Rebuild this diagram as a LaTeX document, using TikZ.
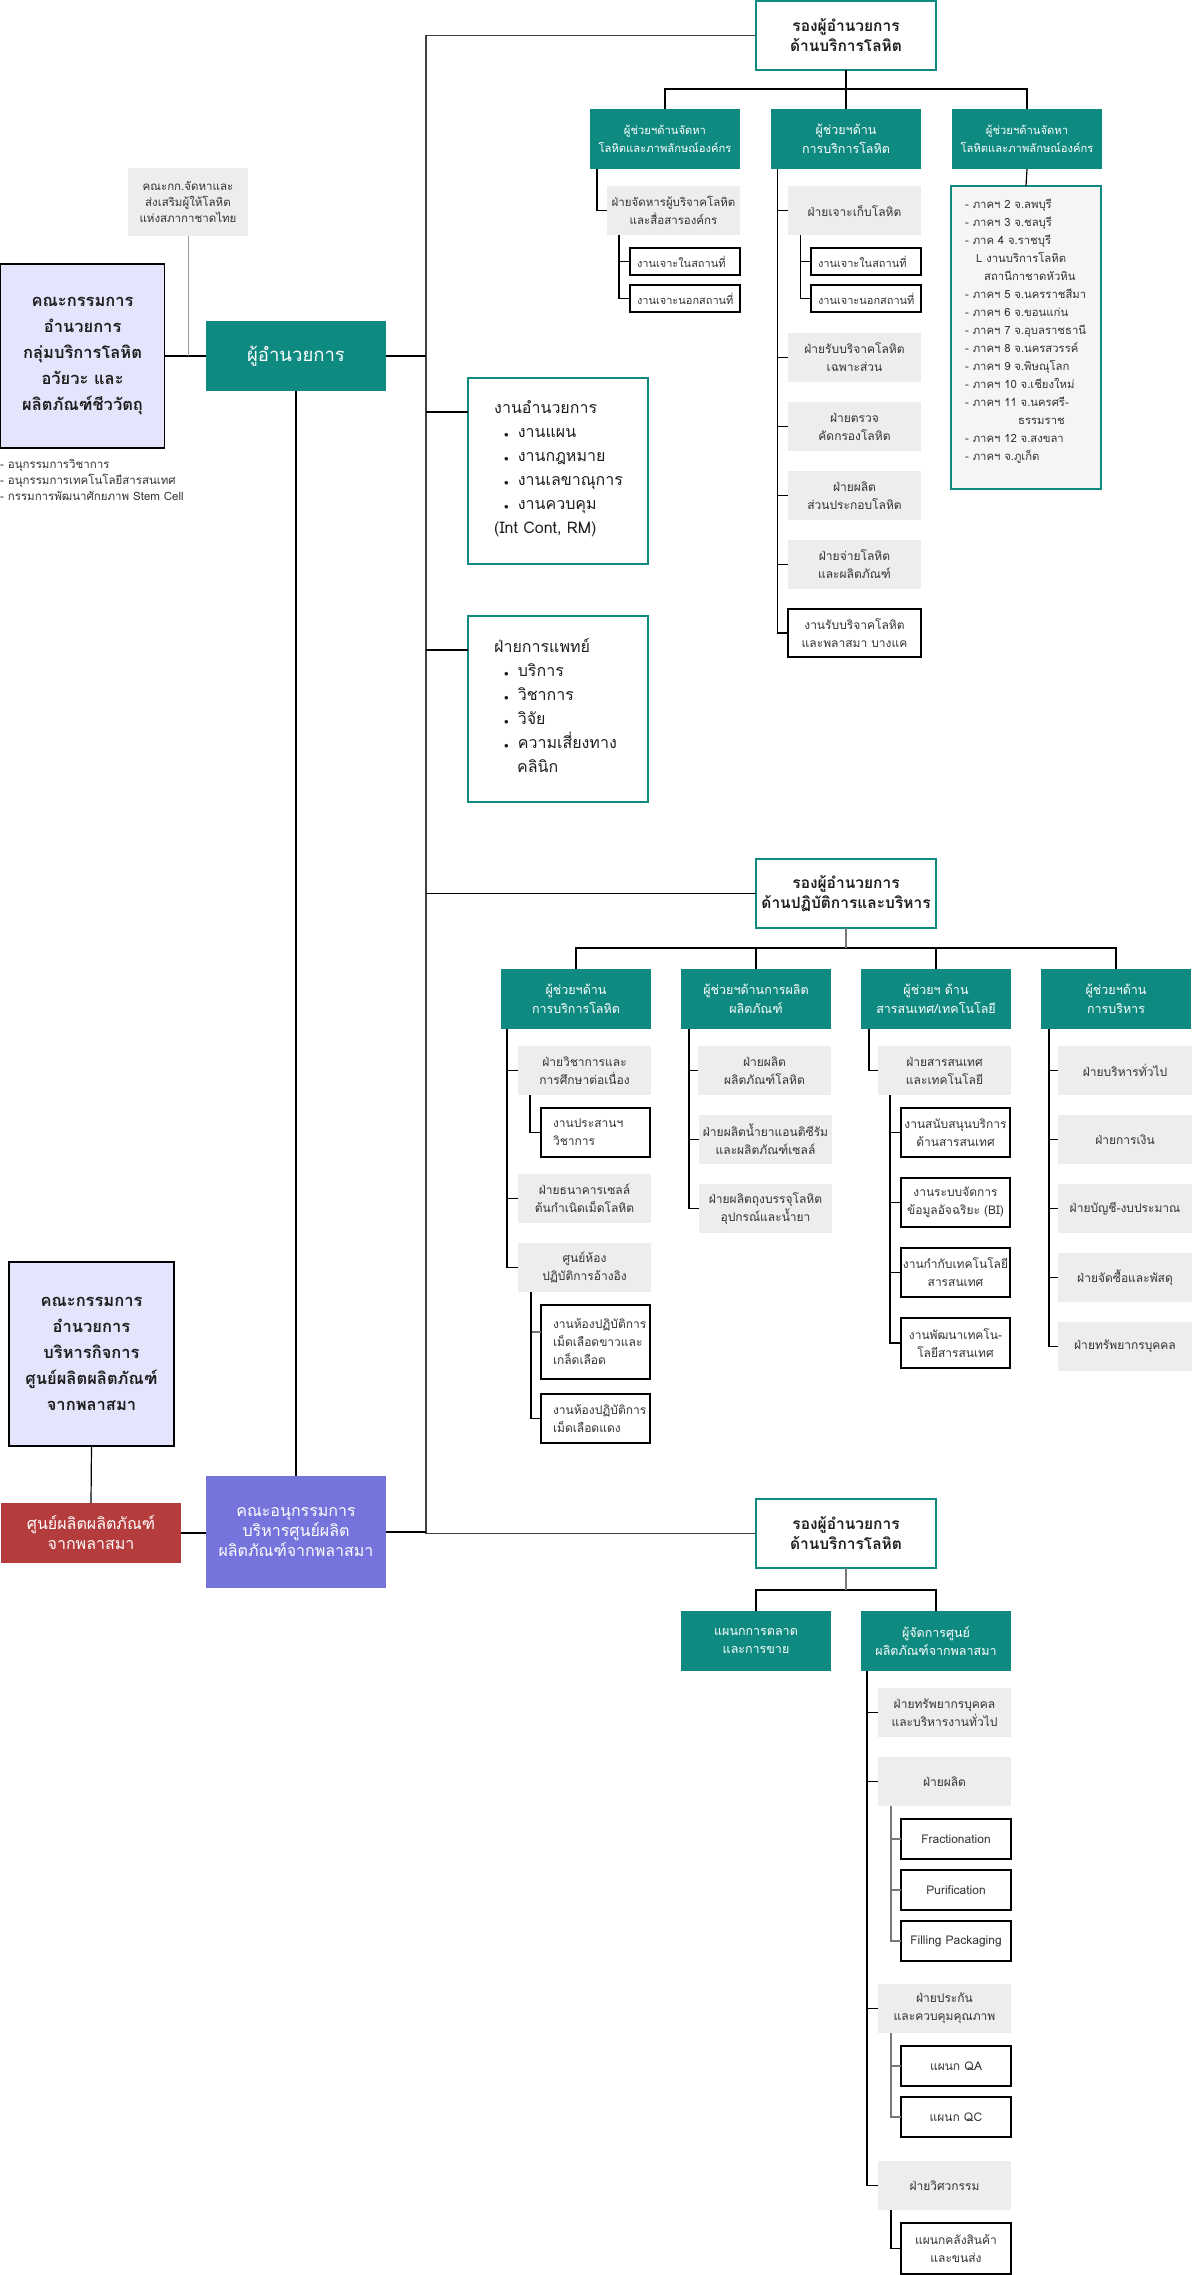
\documentclass[tikz,border=0pt]{standalone}
\usepackage{fontspec}
\setmainfont[Script=Thai]{Loma}
\usetikzlibrary{calc}
\definecolor{tealc}{HTML}{0E8A80}
\definecolor{grayfill}{HTML}{EDEDED}
\definecolor{regfill}{HTML}{F5F5F5}
\definecolor{lavc}{HTML}{E4E4FC}
\definecolor{purc}{HTML}{7474DC}
\definecolor{redc}{HTML}{B53C3C}
\definecolor{txtgray}{HTML}{333333}
\definecolor{txtdark}{HTML}{1E1E1E}
\definecolor{linegray}{HTML}{777777}
\definecolor{lightline}{HTML}{999999}
\newcommand{\bx}[7]{\node[#1, minimum width=#5pt, minimum height=#6pt] (#2) at (#3,#4) {#7};}
\newcommand{\bul}{\hspace*{10pt}{\fontsize{9}{9}\selectfont$\bullet$}\hspace{9pt}}
\tikzset{
  base/.style={anchor=north west, align=center, inner sep=0pt, outer sep=0pt},
  ln/.style={line width=1.2pt, draw=black},
  lng/.style={line width=1.7pt, draw=linegray},
  lnt/.style={line width=1.4pt, draw=black!75},
  lnl/.style={line width=1pt, draw=lightline},
  tealbox/.style={base, fill=tealc, text=white, font=\fontsize{12.5}{18.5}\selectfont},
  tealsm/.style={tealbox, font=\fontsize{11.2}{18.5}\selectfont},
  vpbox/.style={base, draw=tealc, line width=1.2pt, fill=white, text=txtdark, font=\bfseries\fontsize{15.5}{20}\selectfont},
  graybox/.style={base, fill=grayfill, text=txtgray, font=\fontsize{12}{18}\selectfont},
  wbox/.style={base, draw=black, line width=1.2pt, fill=white, text=txtgray, font=\fontsize{12}{18}\selectfont},
  wboxl/.style={wbox, align=left, inner xsep=12pt, text width=85pt},
  wboxs/.style={wbox, align=left, inner xsep=7pt, text width=96pt, font=\fontsize{11}{18}\selectfont},
  lavbox/.style={base, draw=black, line width=1.2pt, fill=lavc, text=txtdark, font=\bfseries\fontsize{16.5}{26}\selectfont},
  infobox/.style={base, draw=tealc, line width=1.2pt, fill=white},
  infotext/.style={anchor=north west, align=left, inner sep=0pt, text=txtdark, font=\fontsize{16}{24}\selectfont},
  btitle/.style={base, text=white, font=\fontsize{16}{20}\selectfont},
}
\begin{document}
\begin{tikzpicture}[x=1pt,y=-1pt]
\useasboundingbox[fill=white] (0,0) rectangle (1192,2275);

% ---------- left side ----------
\bx{graybox, font=\fontsize{11.5}{16}\selectfont}{G0}{128}{168}{120}{68}{คณะกก.จัดหาและ\\ส่งเสริมผู้ให้โลหิต\\แห่งสภากาชาดไทย}
\bx{lavbox}{L1}{0.6}{264}{164}{184}{คณะกรรมการ\\อำนวยการ\\กลุ่มบริการโลหิต\\อวัยวะ และ\\ผลิตภัณฑ์ชีววัตถุ}
\bx{tealbox, font=\fontsize{18.5}{22}\selectfont}{D}{206}{321}{180}{70}{ผู้อำนวยการ}
\node[anchor=north west, align=left, inner sep=0pt, text=txtgray, font=\fontsize{11.5}{16}\selectfont] (NOTES) at (0,459)
 {- อนุกรรมการวิชาการ\\- อนุกรรมการเทคโนโลยีสารสนเทศ\\- กรรมการพัฒนาศักยภาพ Stem Cell};

\bx{lavbox}{L2}{9}{1262}{165}{184}{คณะกรรมการ\\อำนวยการ\\บริหารกิจการ\\ศูนย์ผลิตผลิตภัณฑ์\\จากพลาสมา}
\bx{btitle, fill=redc}{RB}{1}{1503}{180}{60}{ศูนย์ผลิตผลิตภัณฑ์\\จากพลาสมา}
\bx{btitle, fill=purc}{P}{206}{1476}{180}{112}{คณะอนุกรรมการ\\บริหารศูนย์ผลิต\\ผลิตภัณฑ์จากพลาสมา}

% ---------- section 1 ----------
\bx{vpbox}{VP1}{756}{1}{180}{69}{รองผู้อำนวยการ\\ด้านบริการโลหิต}
\bx{tealsm}{A1}{590}{109}{150}{60}{ผู้ช่วยฯด้านจัดหา\\โลหิตและภาพลักษณ์องค์กร}
\bx{tealbox}{A2}{771}{109}{150}{60}{ผู้ช่วยฯด้าน\\การบริการโลหิต}
\bx{tealsm}{A3}{952}{109}{150}{60}{ผู้ช่วยฯด้านจัดหา\\โลหิตและภาพลักษณ์องค์กร}

\bx{graybox, font=\fontsize{11.5}{18}\selectfont}{G1}{607}{186}{133}{49}{ฝ่ายจัดหารผู้บริจาคโลหิต\\และสื่อสารองค์กร}
\bx{wboxs}{W1a}{630}{248}{110}{27}{งานเจาะในสถานที่}
\bx{wboxs}{W1b}{630}{285}{110}{27}{งานเจาะนอกสถานที่}

\bx{graybox}{G2a}{788}{186}{133}{49}{ฝ่ายเจาะเก็บโลหิต}
\bx{wboxs}{W2a}{811}{248}{110}{27}{งานเจาะในสถานที่}
\bx{wboxs}{W2b}{811}{285}{110}{27}{งานเจาะนอกสถานที่}
\bx{graybox}{G2b}{788}{333}{133}{49}{ฝ่ายรับบริจาคโลหิต\\เฉพาะส่วน}
\bx{graybox}{G2c}{788}{402}{133}{49}{ฝ่ายตรวจ\\คัดกรองโลหิต}
\bx{graybox}{G2d}{788}{471}{133}{49}{ฝ่ายผลิต\\ส่วนประกอบโลหิต}
\bx{graybox}{G2e}{788}{540}{133}{49}{ฝ่ายจ่ายโลหิต\\และผลิตภัณฑ์}
\bx{wbox}{W2c}{788}{609}{133}{48}{งานรับบริจาคโลหิต\\และพลาสมา บางแค}

\bx{base, draw=tealc, line width=1.2pt, fill=regfill}{R}{951}{186}{150}{303}{}
\node[anchor=north west, align=left, inner sep=0pt, text=txtgray, font=\fontsize{11.3}{18}\selectfont] (RT) at ($(R.north west)+(14,13)$)
 {- ภาคฯ 2 จ.ลพบุรี\\
  - ภาคฯ 3 จ.ชลบุรี\\
  - ภาค 4 จ.ราชบุรี\\
  \hspace*{11pt}L งานบริการโลหิต\\
  \hspace*{19pt}สถานีกาชาดหัวหิน\\
  - ภาคฯ 5 จ.นครราชสีมา\\
  - ภาคฯ 6 จ.ขอนแก่น\\
  - ภาคฯ 7 จ.อุบลราชธานี\\
  - ภาคฯ 8 จ.นครสวรรค์\\
  - ภาคฯ 9 จ.พิษณุโลก\\
  - ภาคฯ 10 จ.เชียงใหม่\\
  - ภาคฯ 11 จ.นครศรี-\\
  \hspace*{53pt}ธรรมราช\\
  - ภาคฯ 12 จ.สงขลา\\
  - ภาคฯ จ.ภูเก็ต};

\bx{infobox}{B1}{468}{378}{180}{186}{}
\node[infotext] (B1T) at ($(B1.north west)+(26,22)$)
 {งานอำนวยการ\\
  \bul งานแผน\\
  \bul งานกฎหมาย\\
  \bul งานเลขาณุการ\\
  \bul งานควบคุม\\
  (Int Cont, RM)};
\bx{infobox}{B2}{468}{616}{180}{186}{}
\node[infotext] (B2T) at ($(B2.north west)+(26,22)$)
 {ฝ่ายการแพทย์\\
  \bul บริการ\\
  \bul วิชาการ\\
  \bul วิจัย\\
  \bul ความเสี่ยงทาง\\
  \hspace*{23pt}คลินิก};

% ---------- section 2 ----------
\bx{vpbox}{VP2}{756}{859}{180}{69}{รองผู้อำนวยการ\\ด้านปฏิบัติการและบริหาร}
\bx{tealbox}{C1}{501}{969}{150}{60}{ผู้ช่วยฯด้าน\\การบริการโลหิต}
\bx{tealbox}{C2}{681}{969}{150}{60}{ผู้ช่วยฯด้านการผลิต\\ผลิตภัณฑ์}
\bx{tealbox}{C3}{861}{969}{150}{60}{ผู้ช่วยฯ ด้าน\\สารสนเทศ/เทคโนโลยี}
\bx{tealbox}{C4}{1041}{969}{150}{60}{ผู้ช่วยฯด้าน\\การบริหาร}

\bx{graybox}{E1}{518}{1046}{133}{49}{ฝ่ายวิชาการและ\\การศึกษาต่อเนื่อง}
\bx{wboxl}{W3a}{541}{1108}{109}{49}{งานประสานฯ\\วิชาการ}
\bx{graybox}{E2}{518}{1174}{133}{49}{ฝ่ายธนาคารเซลล์\\ต้นกำเนิดเม็ดโลหิต}
\bx{graybox}{E3}{518}{1243}{133}{49}{ศูนย์ห้อง\\ปฏิบัติการอ้างอิง}
\bx{wboxl}{W3b}{541}{1305}{109}{74}{งานห้องปฏิบัติการ\\เม็ดเลือดขาวและ\\เกล็ดเลือด}
\bx{wboxl}{W3c}{541}{1394}{109}{49}{งานห้องปฏิบัติการ\\เม็ดเลือดแดง}

\bx{graybox}{F1}{698}{1046}{133}{49}{ฝ่ายผลิต\\ผลิตภัณฑ์โลหิต}
\bx{graybox}{F2}{699}{1115}{133}{49}{ฝ่ายผลิตน้ำยาแอนติซีรัม\\และผลิตภัณฑ์เซลล์}
\bx{graybox}{F3}{699}{1184}{133}{49}{ฝ่ายผลิตถุงบรรจุโลหิต\\อุปกรณ์และน้ำยา}

\bx{graybox}{H1}{878}{1046}{133}{49}{ฝ่ายสารสนเทศ\\และเทคโนโลยี}
\bx{wbox}{W4a}{901}{1108}{109}{49}{งานสนับสนุนบริการ\\ด้านสารสนเทศ}
\bx{wbox}{W4b}{901}{1178}{109}{49}{งานระบบจัดการ\\ข้อมูลอัจฉริยะ (BI)}
\bx{wbox}{W4c}{901}{1248}{109}{49}{งานกำกับเทคโนโลยี\\สารสนเทศ}
\bx{wbox}{W4d}{901}{1318}{109}{50}{งานพัฒนาเทคโน-\\โลยีสารสนเทศ}

\bx{graybox}{K1}{1058}{1046}{134}{49}{ฝ่ายบริหารทั่วไป}
\bx{graybox}{K2}{1058}{1115}{134}{49}{ฝ่ายการเงิน}
\bx{graybox}{K3}{1058}{1184}{134}{49}{ฝ่ายบัญชี-งบประมาณ}
\bx{graybox}{K4}{1058}{1253}{134}{49}{ฝ่ายจัดซื้อและพัสดุ}
\bx{graybox}{K5}{1058}{1322}{134}{49}{ฝ่ายทรัพยากรบุคคล}

% ---------- section 3 ----------
\bx{vpbox}{VP3}{756}{1499}{180}{69}{รองผู้อำนวยการ\\ด้านบริการโลหิต}
\bx{tealbox}{M1}{681}{1611}{150}{60}{แผนกการตลาด\\และการขาย}
\bx{tealbox}{M2}{861}{1611}{150}{60}{ผู้จัดการศูนย์\\ผลิตภัณฑ์จากพลาสมา}
\bx{graybox}{N1}{878}{1688}{133}{49}{ฝ่ายทรัพยากรบุคคล\\และบริหารงานทั่วไป}
\bx{graybox}{N2}{878}{1757}{133}{49}{ฝ่ายผลิต}
\bx{wbox}{Q1}{901}{1819}{110}{40}{Fractionation}
\bx{wbox}{Q2}{901}{1870}{110}{40}{Purification}
\bx{wbox}{Q3}{901}{1921}{110}{40}{Filling Packaging}
\bx{graybox}{N3}{878}{1984}{133}{49}{ฝ่ายประกัน\\และควบคุมคุณภาพ}
\bx{wbox}{Q4}{901}{2046}{110}{40}{แผนก QA}
\bx{wbox}{Q5}{901}{2097}{110}{40}{แผนก QC}
\bx{graybox}{N4}{878}{2161}{133}{49}{ฝ่ายวิศวกรรม}
\bx{wbox}{Q6}{901}{2223}{110}{51}{แผนกคลังสินค้า\\และขนส่ง}

% ---------- connectors ----------
\coordinate (TR) at (426,0);
\draw[lnt] (VP1.west) -| (TR |- VP3.west) -- (VP3.west);
\draw[ln] (D.east) -- (D.east -| TR);
\draw[ln] (TR |- VP2.west) -- (VP2.west);
\draw[ln] ($(B1.north west)+(0,34)$) -- ($(TR |- B1.north west)+(0,34)$);
\draw[ln] ($(B2.north west)+(0,34)$) -- ($(TR |- B2.north west)+(0,34)$);
\draw[ln] (P.east) -- (P.east -| TR);
\draw[ln] (L1.east) -- (D.west);
\draw[lnl] (G0.south) -- (G0.south |- D.west);
\draw[ln] (D.south) -- (P.north);
\draw[ln] (L2.south) -- (RB.north);
\draw[ln] (RB.east) -- (RB.east -| P.west);

% section 1
\draw[ln] (VP1.south) -- (A2.north);
\draw[ln] (A1.north) -- ++(0,-20) -| (A3.north);
\draw[ln] ($(A1.south west)+(7,0)$) |- (G1.west);
\foreach \n in {W1a,W1b} {\draw[ln] ($(G1.south west)+(12,0)$) |- (\n.west);}
\foreach \n in {G2a,G2b,G2c,G2d,G2e,W2c} {\draw[ln] ($(A2.south west)+(6.5,0)$) |- (\n.west);}
\foreach \n in {W2a,W2b} {\draw[ln] ($(G2a.south west)+(12.5,0)$) |- (\n.west);}
\draw[ln] (A3.south) -- (R.north);

% section 2
\draw[ln] (C1.north) -- ++(0,-21) coordinate (bar2) -| (C4.north);
\draw[ln] (C2.north) -- (C2.north |- bar2);
\draw[ln] (C3.north) -- (C3.north |- bar2);
\draw[lng] (VP2.south) -- (VP2.south |- bar2);
\foreach \n in {E1,E2,E3} {\draw[ln] ($(C1.south west)+(6,0)$) |- (\n.west);}
\draw[ln] ($(E1.south west)+(12,0)$) |- (W3a.west);
\draw[lng] ($(E3.south west)+(13,0)$) |- ($(W3b.north west)+(0,27)$);
\draw[ln] ($(E3.south west)+(13,0)$) |- (W3c.west);
\foreach \n in {F1,F2,F3} {\draw[ln] ($(C2.south west)+(8,0)$) |- (\n.west);}
\draw[ln] ($(C3.south west)+(8,0)$) |- (H1.west);
\foreach \n in {W4a,W4b,W4c,W4d} {\draw[ln] ($(H1.south west)+(12,0)$) |- (\n.west);}
\foreach \n in {K1,K2,K3,K4,K5} {\draw[ln] ($(C4.south west)+(8,0)$) |- (\n.west);}

% section 3
\draw[ln] (M1.north) -- ++(0,-21) coordinate (bar3) -| (M2.north);
\draw[lng] (VP3.south) -- (VP3.south |- bar3);
\foreach \n in {N1,N2,N3,N4} {\draw[ln] ($(M2.south west)+(6,0)$) |- (\n.west);}
\foreach \n in {Q1,Q2,Q3} {\draw[lng] ($(N2.south west)+(13,0)$) |- (\n.west);}
\foreach \n in {Q4,Q5} {\draw[lng] ($(N3.south west)+(13,0)$) |- (\n.west);}
\draw[ln] ($(N4.south west)+(13,0)$) |- (Q6.west);
\end{tikzpicture}
\end{document}
